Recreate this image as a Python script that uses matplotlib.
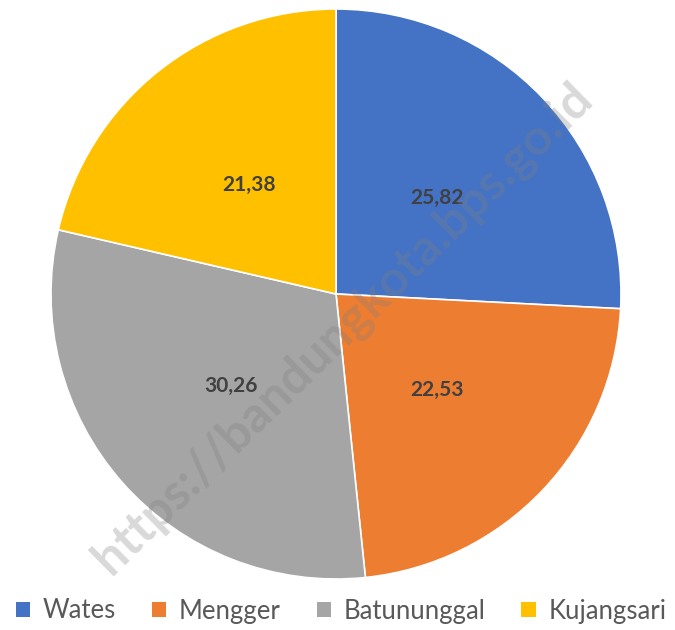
import matplotlib
matplotlib.use("Agg")
import matplotlib.pyplot as plt
from matplotlib.patches import Patch

categories = ["Wates", "Mengger", "Batunung gal".replace(" ", ""), "Kujangsari"]
values = [25.82, 22.53, 30.26, 21.38]
labels = ["25,82", "22,53", "30,26", "21,38"]
colors = ["#4472C4", "#ED7D31", "#A5A5A5", "#FFC000"]

W, H = 675, 630
fig = plt.figure(figsize=(W / 100, H / 100), dpi=100)
cx, cy, r = 336, 294, 285
ax = fig.add_axes([(cx - r) / W, (H - cy - r) / H, 2 * r / W, 2 * r / H])

wedges, texts = ax.pie(values, colors=colors, startangle=90, counterclock=False,
                       radius=1, labels=labels, labeldistance=0.49,
                       wedgeprops=dict(edgecolor="white", linewidth=1.2),
                       textprops=dict(fontsize=15, fontweight="bold", color="#404040",
                                      family="Lato", ha="center", va="center"))
ax.set_xlim(-1, 1)
ax.set_ylim(-1, 1)
ax.set_aspect("equal")
ax.axis("off")

# watermark
fig.text(343 / W, 1 - 328 / H, "https://bandungkota.bps.go.id", rotation=44.5,
         fontsize=36, fontweight="bold", color="#808080", alpha=0.3,
         family="Lato", ha="center", va="center")

handles = [Patch(facecolor=c, edgecolor="none") for c in colors]
fig.legend(handles, categories, loc="center", bbox_to_anchor=(341 / W, 1 - 611 / H),
           ncol=4, frameon=False, prop=dict(family="Lato", size=18.5),
           labelcolor="#595959", handlelength=0.55, handleheight=0.55,
           handletextpad=0.5, columnspacing=1.4)

fig.savefig("out.png", dpi=100)
